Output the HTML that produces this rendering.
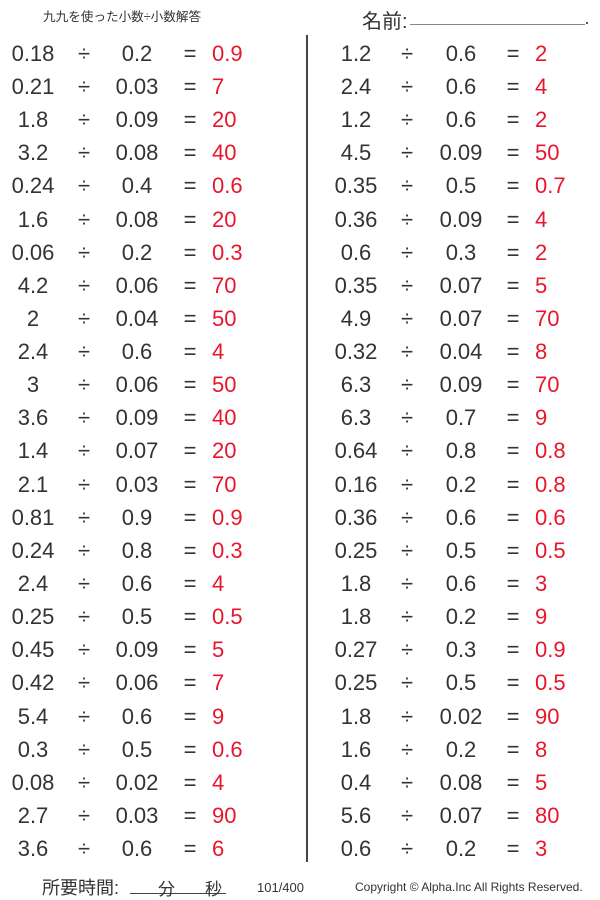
<!DOCTYPE html>
<html><head><meta charset="utf-8"><style>
body{margin:0;width:600px;height:899px;background:#fff;position:relative;overflow:hidden;font-family:"Liberation Sans","Noto Sans CJK JP",sans-serif;color:#333}
.w{position:absolute;left:0;height:22px;width:600px;margin-top:2px}
.w span{position:absolute;top:0;font-size:22px;line-height:22px;text-align:center;white-space:nowrap}
.a{left:3px;width:60px}.d{left:74px;width:20px}.b{left:107px;width:60px}.e{left:180px;width:20px}.r{left:212px;color:#e8162c;text-align:left!important}
.R .a{left:326px}.R .d{left:397px}.R .b{left:431px}.R .e{left:503px}.R .r{left:535px}
.t{position:absolute;white-space:nowrap}
</style></head><body>
<div class="t" style="left:43px;top:6px;font-size:12.6px">九九を使った小数÷小数解答</div>
<div class="t" style="left:362px;top:5px;font-size:20px">名前:</div>
<div style="position:absolute;left:410px;top:24px;width:175px;height:1px;background:#888"></div>
<div style="position:absolute;left:586px;top:22px;width:2px;height:2px;background:#555"></div>
<div style="position:absolute;left:306px;top:35px;width:2px;height:827px;background:#444"></div>

<div class="w" style="top:41px"><span class="a">0.18</span><span class="d">÷</span><span class="b">0.2</span><span class="e">=</span><span class="r">0.9</span></div>
<div class="w" style="top:74px"><span class="a">0.21</span><span class="d">÷</span><span class="b">0.03</span><span class="e">=</span><span class="r">7</span></div>
<div class="w" style="top:107px"><span class="a">1.8</span><span class="d">÷</span><span class="b">0.09</span><span class="e">=</span><span class="r">20</span></div>
<div class="w" style="top:140px"><span class="a">3.2</span><span class="d">÷</span><span class="b">0.08</span><span class="e">=</span><span class="r">40</span></div>
<div class="w" style="top:173px"><span class="a">0.24</span><span class="d">÷</span><span class="b">0.4</span><span class="e">=</span><span class="r">0.6</span></div>
<div class="w" style="top:207px"><span class="a">1.6</span><span class="d">÷</span><span class="b">0.08</span><span class="e">=</span><span class="r">20</span></div>
<div class="w" style="top:240px"><span class="a">0.06</span><span class="d">÷</span><span class="b">0.2</span><span class="e">=</span><span class="r">0.3</span></div>
<div class="w" style="top:273px"><span class="a">4.2</span><span class="d">÷</span><span class="b">0.06</span><span class="e">=</span><span class="r">70</span></div>
<div class="w" style="top:306px"><span class="a">2</span><span class="d">÷</span><span class="b">0.04</span><span class="e">=</span><span class="r">50</span></div>
<div class="w" style="top:339px"><span class="a">2.4</span><span class="d">÷</span><span class="b">0.6</span><span class="e">=</span><span class="r">4</span></div>
<div class="w" style="top:372px"><span class="a">3</span><span class="d">÷</span><span class="b">0.06</span><span class="e">=</span><span class="r">50</span></div>
<div class="w" style="top:405px"><span class="a">3.6</span><span class="d">÷</span><span class="b">0.09</span><span class="e">=</span><span class="r">40</span></div>
<div class="w" style="top:438px"><span class="a">1.4</span><span class="d">÷</span><span class="b">0.07</span><span class="e">=</span><span class="r">20</span></div>
<div class="w" style="top:472px"><span class="a">2.1</span><span class="d">÷</span><span class="b">0.03</span><span class="e">=</span><span class="r">70</span></div>
<div class="w" style="top:505px"><span class="a">0.81</span><span class="d">÷</span><span class="b">0.9</span><span class="e">=</span><span class="r">0.9</span></div>
<div class="w" style="top:538px"><span class="a">0.24</span><span class="d">÷</span><span class="b">0.8</span><span class="e">=</span><span class="r">0.3</span></div>
<div class="w" style="top:571px"><span class="a">2.4</span><span class="d">÷</span><span class="b">0.6</span><span class="e">=</span><span class="r">4</span></div>
<div class="w" style="top:604px"><span class="a">0.25</span><span class="d">÷</span><span class="b">0.5</span><span class="e">=</span><span class="r">0.5</span></div>
<div class="w" style="top:637px"><span class="a">0.45</span><span class="d">÷</span><span class="b">0.09</span><span class="e">=</span><span class="r">5</span></div>
<div class="w" style="top:670px"><span class="a">0.42</span><span class="d">÷</span><span class="b">0.06</span><span class="e">=</span><span class="r">7</span></div>
<div class="w" style="top:704px"><span class="a">5.4</span><span class="d">÷</span><span class="b">0.6</span><span class="e">=</span><span class="r">9</span></div>
<div class="w" style="top:737px"><span class="a">0.3</span><span class="d">÷</span><span class="b">0.5</span><span class="e">=</span><span class="r">0.6</span></div>
<div class="w" style="top:770px"><span class="a">0.08</span><span class="d">÷</span><span class="b">0.02</span><span class="e">=</span><span class="r">4</span></div>
<div class="w" style="top:803px"><span class="a">2.7</span><span class="d">÷</span><span class="b">0.03</span><span class="e">=</span><span class="r">90</span></div>
<div class="w" style="top:836px"><span class="a">3.6</span><span class="d">÷</span><span class="b">0.6</span><span class="e">=</span><span class="r">6</span></div>

<div class="w R" style="top:41px"><span class="a">1.2</span><span class="d">÷</span><span class="b">0.6</span><span class="e">=</span><span class="r">2</span></div>
<div class="w R" style="top:74px"><span class="a">2.4</span><span class="d">÷</span><span class="b">0.6</span><span class="e">=</span><span class="r">4</span></div>
<div class="w R" style="top:107px"><span class="a">1.2</span><span class="d">÷</span><span class="b">0.6</span><span class="e">=</span><span class="r">2</span></div>
<div class="w R" style="top:140px"><span class="a">4.5</span><span class="d">÷</span><span class="b">0.09</span><span class="e">=</span><span class="r">50</span></div>
<div class="w R" style="top:173px"><span class="a">0.35</span><span class="d">÷</span><span class="b">0.5</span><span class="e">=</span><span class="r">0.7</span></div>
<div class="w R" style="top:207px"><span class="a">0.36</span><span class="d">÷</span><span class="b">0.09</span><span class="e">=</span><span class="r">4</span></div>
<div class="w R" style="top:240px"><span class="a">0.6</span><span class="d">÷</span><span class="b">0.3</span><span class="e">=</span><span class="r">2</span></div>
<div class="w R" style="top:273px"><span class="a">0.35</span><span class="d">÷</span><span class="b">0.07</span><span class="e">=</span><span class="r">5</span></div>
<div class="w R" style="top:306px"><span class="a">4.9</span><span class="d">÷</span><span class="b">0.07</span><span class="e">=</span><span class="r">70</span></div>
<div class="w R" style="top:339px"><span class="a">0.32</span><span class="d">÷</span><span class="b">0.04</span><span class="e">=</span><span class="r">8</span></div>
<div class="w R" style="top:372px"><span class="a">6.3</span><span class="d">÷</span><span class="b">0.09</span><span class="e">=</span><span class="r">70</span></div>
<div class="w R" style="top:405px"><span class="a">6.3</span><span class="d">÷</span><span class="b">0.7</span><span class="e">=</span><span class="r">9</span></div>
<div class="w R" style="top:438px"><span class="a">0.64</span><span class="d">÷</span><span class="b">0.8</span><span class="e">=</span><span class="r">0.8</span></div>
<div class="w R" style="top:472px"><span class="a">0.16</span><span class="d">÷</span><span class="b">0.2</span><span class="e">=</span><span class="r">0.8</span></div>
<div class="w R" style="top:505px"><span class="a">0.36</span><span class="d">÷</span><span class="b">0.6</span><span class="e">=</span><span class="r">0.6</span></div>
<div class="w R" style="top:538px"><span class="a">0.25</span><span class="d">÷</span><span class="b">0.5</span><span class="e">=</span><span class="r">0.5</span></div>
<div class="w R" style="top:571px"><span class="a">1.8</span><span class="d">÷</span><span class="b">0.6</span><span class="e">=</span><span class="r">3</span></div>
<div class="w R" style="top:604px"><span class="a">1.8</span><span class="d">÷</span><span class="b">0.2</span><span class="e">=</span><span class="r">9</span></div>
<div class="w R" style="top:637px"><span class="a">0.27</span><span class="d">÷</span><span class="b">0.3</span><span class="e">=</span><span class="r">0.9</span></div>
<div class="w R" style="top:670px"><span class="a">0.25</span><span class="d">÷</span><span class="b">0.5</span><span class="e">=</span><span class="r">0.5</span></div>
<div class="w R" style="top:704px"><span class="a">1.8</span><span class="d">÷</span><span class="b">0.02</span><span class="e">=</span><span class="r">90</span></div>
<div class="w R" style="top:737px"><span class="a">1.6</span><span class="d">÷</span><span class="b">0.2</span><span class="e">=</span><span class="r">8</span></div>
<div class="w R" style="top:770px"><span class="a">0.4</span><span class="d">÷</span><span class="b">0.08</span><span class="e">=</span><span class="r">5</span></div>
<div class="w R" style="top:803px"><span class="a">5.6</span><span class="d">÷</span><span class="b">0.07</span><span class="e">=</span><span class="r">80</span></div>
<div class="w R" style="top:836px"><span class="a">0.6</span><span class="d">÷</span><span class="b">0.2</span><span class="e">=</span><span class="r">3</span></div>

<div class="t" style="left:42px;top:874px;font-size:18px">所要時間:</div>
<div style="position:absolute;left:130px;top:893px;width:96px;height:1px;background:#444"></div>
<div class="t" style="left:158px;top:875px;font-size:17px">分</div>
<div class="t" style="left:205px;top:875px;font-size:17px">秒</div>
<div class="t" style="left:257px;top:880px;font-size:13px">101/400</div>
<div class="t" style="left:355px;top:880px;font-size:12px">Copyright © Alpha.Inc All Rights Reserved.</div>
</body></html>
